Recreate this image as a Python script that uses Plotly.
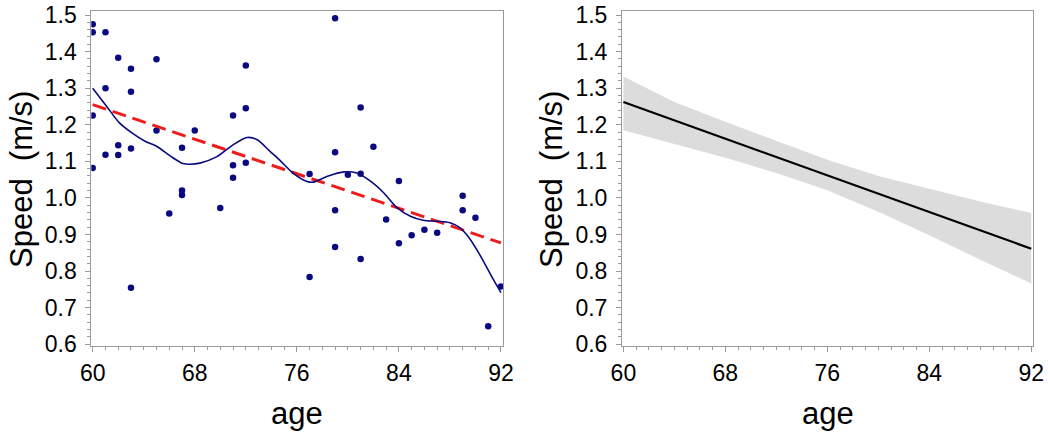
import plotly.graph_objects as go

# ---------------- data ----------------
# Left panel: observed points
age_obs = [60, 60, 60, 60,
           61, 61, 61,
           62, 62, 62,
           63, 63, 63, 63,
           65, 65,
           66,
           67, 67, 67,
           68,
           70,
           71, 71, 71,
           72, 72, 72,
           77, 77,
           79, 79, 79, 79,
           80,
           81, 81, 81,
           82,
           83,
           84, 84,
           85,
           86,
           87,
           89, 89,
           90,
           91,
           92]
speed_obs = [1.475, 1.453, 1.225, 1.082,
             1.453, 1.300, 1.118,
             1.383, 1.144, 1.117,
             1.353, 1.290, 1.135, 0.754,
             1.379, 1.184,
             0.957,
             1.137, 1.020, 1.008,
             1.184,
             0.972,
             1.225, 1.089, 1.055,
             1.362, 1.245, 1.096,
             1.065, 0.784,
             1.491, 1.125, 0.966, 0.866,
             1.063,
             1.247, 1.066, 0.833,
             1.140,
             0.941,
             1.046, 0.876,
             0.898,
             0.913,
             0.905,
             1.006, 0.966,
             0.946,
             0.649,
             0.758]

# Left panel: smooth (loess) curve
age_smooth = [60, 61.1, 62.1, 63.1, 64.1, 65.0, 66.1, 67.0, 67.6, 68.4, 69.7,
              71.0, 72.1, 72.9, 73.9, 74.7, 75.7, 76.8, 77.3, 78.4, 79.7,
              80.7, 81.8, 82.8, 83.8, 84.9, 85.9, 87.0, 88.0, 88.8, 89.5,
              90.4, 91.4, 92]
speed_smooth = [1.300, 1.250, 1.205, 1.177, 1.155, 1.141, 1.114, 1.095, 1.092,
                1.095, 1.112, 1.145, 1.165, 1.159, 1.127, 1.102, 1.068, 1.045,
                1.043, 1.059, 1.071, 1.068, 1.045, 1.014, 0.975, 0.950, 0.939,
                0.936, 0.932, 0.918, 0.891, 0.841, 0.777, 0.741]

# Left panel: linear fit (dashed red)
age_lin = [60, 92]
speed_lin = [1.255, 0.877]

# Right panel: fit with confidence band
age_fit = [60, 64, 68, 72, 76, 80, 84, 88, 92]
speed_fit = [1.262, 1.212, 1.162, 1.112, 1.062, 1.011, 0.961, 0.911, 0.861]
speed_upper = [1.332, 1.262, 1.208, 1.157, 1.104, 1.060, 1.024, 0.990, 0.959]
speed_lower = [1.185, 1.148, 1.110, 1.068, 1.021, 0.962, 0.898, 0.831, 0.766]

x_ticks = [60, 68, 76, 84, 92]
y_ticks = [0.6, 0.7, 0.8, 0.9, 1.0, 1.1, 1.2, 1.3, 1.4, 1.5]
x_title = "age"
y_title = "Speed\u00a0\u00a0(m/s)"

# ---------------- figure ----------------
NAVY = "#0a0a80"
FONT = "Liberation Sans, Arial, Helvetica, sans-serif"
W, H = 1050, 432

def px(X):
    return X / W

def py(Y):
    return 1 - Y / H

fig = go.Figure()

fig.add_trace(go.Scatter(x=age_obs, y=speed_obs, mode="markers",
                         marker=dict(color=NAVY, size=6.5),
                         xaxis="x", yaxis="y", showlegend=False))
fig.add_trace(go.Scatter(x=age_lin, y=speed_lin, mode="lines",
                         line=dict(color="#ee1c1c", width=3, dash="14px,7px"),
                         xaxis="x", yaxis="y", showlegend=False))
fig.add_trace(go.Scatter(x=age_smooth, y=speed_smooth, mode="lines",
                         line=dict(color=NAVY, width=1.6, shape="spline", smoothing=0.8),
                         xaxis="x", yaxis="y", showlegend=False))

fig.add_trace(go.Scatter(x=age_fit, y=speed_upper, mode="lines",
                         line=dict(width=0, color="#dcdcdc"),
                         xaxis="x2", yaxis="y2", showlegend=False))
fig.add_trace(go.Scatter(x=age_fit, y=speed_lower, mode="lines",
                         line=dict(width=0, color="#dcdcdc"), fill="tonexty",
                         fillcolor="#dcdcdc",
                         xaxis="x2", yaxis="y2", showlegend=False))
fig.add_trace(go.Scatter(x=age_fit, y=speed_fit, mode="lines",
                         line=dict(color="black", width=2.2),
                         xaxis="x2", yaxis="y2", showlegend=False))

x_range = [59.89, 92.16]
y_range = [0.595, 1.511]
AX_COL = "#9a9a9a"

def xaxis(domain, anchor):
    return dict(domain=domain, anchor=anchor, range=x_range, automargin=False,
                tickmode="array", tickvals=x_ticks, ticktext=[str(v) for v in x_ticks],
                ticks="outside", ticklen=5, tickcolor=AX_COL, tickwidth=1,
                minor=dict(dtick=1, tick0=60, ticks="outside", ticklen=3,
                           tickcolor=AX_COL, showgrid=False),
                showline=True, linecolor=AX_COL, linewidth=1, mirror=True,
                showgrid=False, zeroline=False, ticklabeloverflow="allow",
                tickfont=dict(family=FONT, size=23, color="black"),
                ticklabelstandoff=1)

def yaxis(anchor):
    return dict(domain=[py(346), py(11)], anchor=anchor, range=y_range, automargin=False,
                tickmode="array", tickvals=y_ticks,
                ticktext=["%.1f" % v for v in y_ticks],
                ticks="outside", ticklen=5, tickcolor=AX_COL, tickwidth=1,
                minor=dict(dtick=0.02, tick0=0.6, ticks="outside", ticklen=3,
                           tickcolor=AX_COL, showgrid=False),
                showline=True, linecolor=AX_COL, linewidth=1, mirror=True,
                showgrid=False, zeroline=False, ticklabeloverflow="allow",
                tickfont=dict(family=FONT, size=23, color="black"),
                ticklabelstandoff=4)

fig.update_layout(
    width=W, height=H,
    margin=dict(l=0, r=0, t=0, b=0, autoexpand=False),
    paper_bgcolor="white", plot_bgcolor="white",
    showlegend=False,
    xaxis=xaxis([px(91.3), px(503)], "y"),
    yaxis=yaxis("x"),
    xaxis2=xaxis([px(622), px(1033.3)], "y2"),
    yaxis2=yaxis("x2"),
)

ann_font = dict(family=FONT, size=31, color="black")
for xc, yc in [(21, 180), (551, 180)]:
    fig.add_annotation(text=y_title, xref="paper", yref="paper",
                       x=px(xc), y=py(yc), xanchor="center", yanchor="middle",
                       textangle=-90, showarrow=False, font=ann_font)
for xc in [297, 828]:
    fig.add_annotation(text=x_title, xref="paper", yref="paper",
                       x=px(xc), y=py(413), xanchor="center", yanchor="middle",
                       showarrow=False, font=ann_font)

fig.write_html("out.html", config={"displayModeBar": False},
               post_script="document.body.style.margin='0';document.body.style.overflow='hidden';")
